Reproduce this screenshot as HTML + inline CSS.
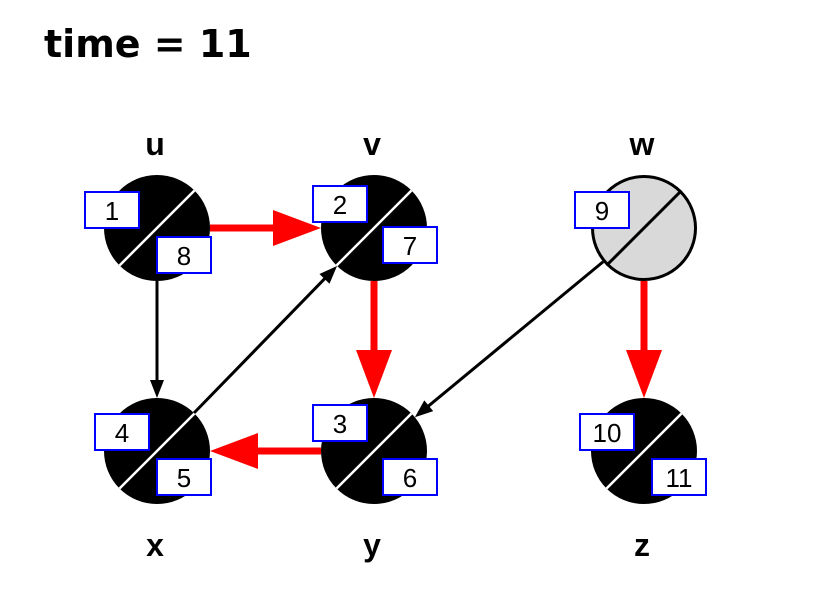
<!DOCTYPE html>
<html><head><meta charset="utf-8"><style>
html,body{margin:0;padding:0;background:#fff;}
svg{display:block;font-family:"Liberation Sans",sans-serif;}
</style></head><body>
<svg id="g" width="818" height="592" viewBox="0 0 818 592">
<text x="44" y="57" font-size="38" font-weight="bold" font-family="DejaVu Sans, sans-serif">time = 11</text>
</svg>
<script>
const names=["u","v","w","x","y","z"];
const discover=[1,2,9,4,3,10];
const finish=[8,7,null,5,6,11];
const colX=[157,374,644,157,374,644];
const rowY=[228,228,228,451,451,451];
const dBox=[[85,192],[313,186],[575,192],[95,414],[313,405],[580,414]];
const fBox=[[157,237],[383,227],null,[157,459],[383,459],[652,459]];
const edgeFrom=[0,0,1,4,3,2,2];
const edgeTo=[1,3,4,3,1,4,5];
const edgeTree=[true,false,true,true,false,false,true];
const R=53;
const NS="http://www.w3.org/2000/svg";
const svg=document.getElementById('g');
function mk(t,a,p){const e=document.createElementNS(NS,t);for(const k in a)e.setAttribute(k,a[k]);(p||svg).appendChild(e);return e;}
for(let i=0;i<edgeFrom.length;i++){
  const a=edgeFrom[i],b=edgeTo[i];
  const x1=colX[a],y1=rowY[a],x2=colX[b],y2=rowY[b];
  const dx=x2-x1,dy=y2-y1,L=Math.hypot(dx,dy),ux=dx/L,uy=dy/L;
  const sx=x1+ux*R,sy=y1+uy*R,ex=x2-ux*R,ey=y2-uy*R;
  const red=edgeTree[i];
  const hl=red?48:18,hw=red?18:7;
  const g=mk('g',{});
  
  
  const col=red?'#ff0000':'#000';
  mk('line',{x1:sx,y1:sy,x2:ex-ux*hl*0.9,y2:ey-uy*hl*0.9,stroke:col,'stroke-width':red?7:3},g);
  const bx=ex-ux*hl,by=ey-uy*hl;
  mk('polygon',{points:`${ex},${ey} ${bx-uy*hw},${by+ux*hw} ${bx+uy*hw},${by-ux*hw}`,fill:col},g);
}
for(let i=0;i<names.length;i++){
  const cx=colX[i],cy=rowY[i],black=finish[i]!==null;
  const g=mk('g',{});
  
  
  mk('circle',{cx,cy,r:black?R:51.5,fill:black?'#000':'#d9d9d9',stroke:'#000','stroke-width':black?0:3},g);
  const d=R*0.7071;
  mk('line',{x1:cx+d,y1:cy-d,x2:cx-d,y2:cy+d,stroke:black?'#fff':'#000','stroke-width':black?2.5:3},g);
  const lbl=mk('text',{x:cx-2,y:i<3?cy-73:cy+105,'font-size':32,'font-weight':'bold','text-anchor':'middle'},g);
  lbl.textContent=names[i];
  const boxes=[[dBox[i],discover[i]],[fBox[i],finish[i]]];
  for(const [bp,val] of boxes){
    if(!bp)continue;
    mk('rect',{x:bp[0],y:bp[1],width:54,height:36,fill:'#fff',stroke:'#0000ff','stroke-width':2},g);
    const t=mk('text',{x:bp[0]+27,y:bp[1]+28,'font-size':26,'text-anchor':'middle'},g);
    t.textContent=val;
  }
}
</script>
</body></html>
